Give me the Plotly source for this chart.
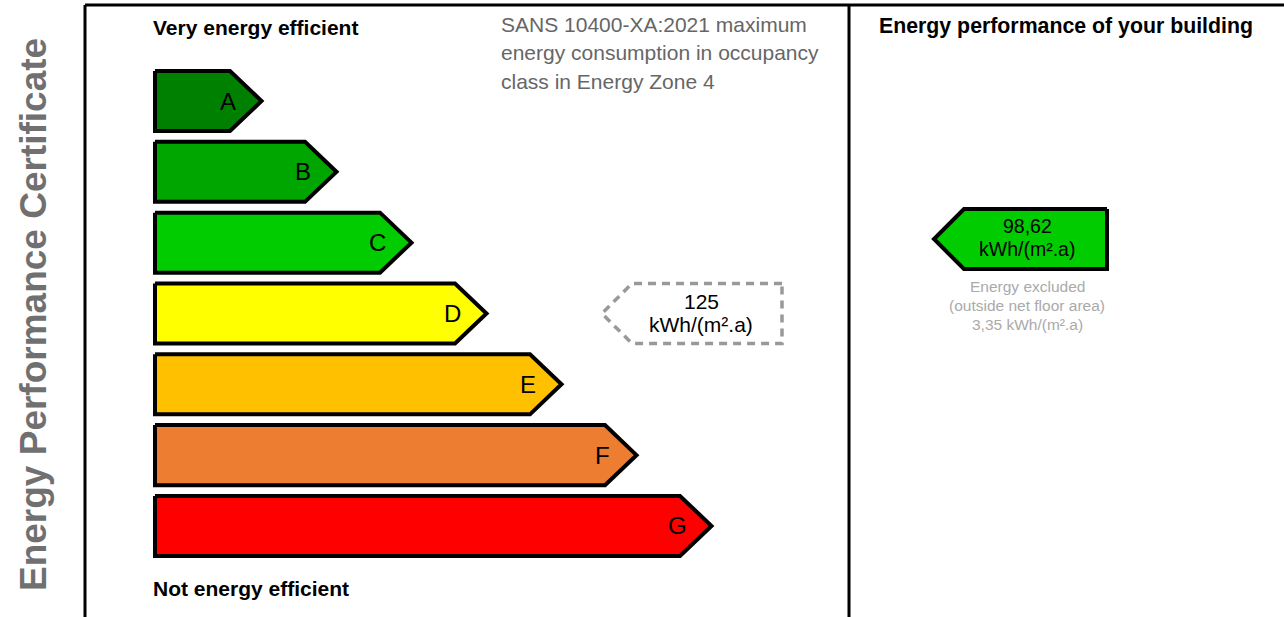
import plotly.graph_objects as go

# ---------------- data ----------------
bands = ["A", "B", "C", "D", "E", "F", "G"]
band_lengths = [1, 2, 3, 4, 5, 6, 7]          # relative arrow length per rating band
band_colors = ["#008000", "#00a600", "#00cc00", "#ffff00", "#ffc000", "#ed7d31", "#ff0000"]

standard_band = "D"                            # band where the SANS maximum sits
standard_max = "125"
unit_label = "kWh/(m².a)"
building_band_color = "#00cc00"
building_value = "98,62"
excluded_value = "3,35"

title_left_top = "Very energy efficient"
title_left_bottom = "Not energy efficient"
standard_lines = ["SANS 10400-XA:2021 maximum",
                  "energy consumption in occupancy",
                  "class in Energy Zone 4"]
title_right = "Energy performance of your building"
side_title = "Energy Performance Certificate"
excluded_lines = ["Energy excluded", "(outside net floor area)",
                  f"{excluded_value} {unit_label}"]

# ---------------- layout constants ----------------
W, H = 1284, 617
X0_PX, UNIT_PX = 155, 75          # x: 0 band-length units at 155 px, 1 unit = 75 px
ROW0_PX, ROW_PX = 101, 70.83      # y: row index 0 at 101 px
x_range = [-X0_PX / UNIT_PX, (W - X0_PX) / UNIT_PX]
y_range = [(H - ROW0_PX) / ROW_PX, -ROW0_PX / ROW_PX]
HALF = 0.424                       # half bar height (rows)
TIP = 0.42                         # arrow tip depth (units)

FONT = "Liberation Sans, Arial, sans-serif"


def ux(px):
    return (px - X0_PX) / UNIT_PX


def uy(px):
    return (px - ROW0_PX) / ROW_PX


fig = go.Figure()

# rating band arrows
for i, (b, L, c) in enumerate(zip(bands, band_lengths, band_colors)):
    fig.add_trace(go.Scatter(
        x=[0, L, L + TIP, L, 0, 0],
        y=[i - HALF, i - HALF, i, i + HALF, i + HALF, i - HALF],
        mode="lines", fill="toself", fillcolor=c,
        line=dict(color="black", width=4),
        hoverinfo="skip", showlegend=False))
    fig.add_annotation(x=L - 0.03, y=i, text=b, showarrow=False,
                       xanchor="center", yanchor="middle",
                       font=dict(family=FONT, size=24, color="black"))

# dashed maximum arrow (standard)
ri = bands.index(standard_band)
d_tip, d_corner, d_right = ux(602), ux(632), ux(782)
fig.add_trace(go.Scatter(
    x=[d_right, d_corner, d_tip, d_corner, d_right, d_right],
    y=[ri - HALF, ri - HALF, ri, ri + HALF, ri + HALF, ri - HALF],
    mode="lines", line=dict(color="#999999", width=3.5, dash="8px,6px"),
    hoverinfo="skip", showlegend=False))
fig.add_annotation(x=ux(701), y=uy(301), text=standard_max, showarrow=False,
                   font=dict(family=FONT, size=21, color="black"))
fig.add_annotation(x=ux(701), y=uy(324), text=unit_label, showarrow=False,
                   font=dict(family=FONT, size=21, color="black"))

# building arrow
by = uy(239)
b_tip, b_corner, b_right = ux(934), ux(964), ux(1107)
fig.add_trace(go.Scatter(
    x=[b_right, b_corner, b_tip, b_corner, b_right, b_right],
    y=[by - HALF, by - HALF, by, by + HALF, by + HALF, by - HALF],
    mode="lines", fill="toself", fillcolor=building_band_color,
    line=dict(color="black", width=4),
    hoverinfo="skip", showlegend=False))
fig.add_annotation(x=ux(1027), y=uy(226), text=building_value, showarrow=False,
                   font=dict(family=FONT, size=19.5, color="black"))
fig.add_annotation(x=ux(1027), y=uy(249), text=unit_label, showarrow=False,
                   font=dict(family=FONT, size=19.5, color="black"))
for k, t in enumerate(excluded_lines):
    fig.add_annotation(x=ux(1027), y=uy(286 + 19 * k), text=t, showarrow=False,
                       font=dict(family=FONT, size=15.5, color="#aaaaaa"))

# headings
fig.add_annotation(x=ux(151), y=uy(27), text=f"<b>{title_left_top}</b>", showarrow=False,
                   xanchor="left", font=dict(family=FONT, size=21, color="black"))
fig.add_annotation(x=ux(151), y=uy(588), text=f"<b>{title_left_bottom}</b>", showarrow=False,
                   xanchor="left", font=dict(family=FONT, size=21, color="black"))
for k, t in enumerate(standard_lines):
    fig.add_annotation(x=ux(499), y=uy(24 + 28.5 * k), text=t, showarrow=False,
                       xanchor="left", font=dict(family=FONT, size=21, color="#666666"))
fig.add_annotation(x=ux(1066), y=uy(26), text=f"<b>{title_right}</b>", showarrow=False,
                   xanchor="center", font=dict(family=FONT, size=21.3, color="black"))
fig.add_annotation(xref="paper", yref="paper", x=33 / W, y=1 - 315 / H,
                   text=f"<b>{side_title}</b>", textangle=-90, showarrow=False,
                   xanchor="center", yanchor="middle",
                   font=dict(family=FONT, size=37, color="#707070"))

# frame lines
top = 1 - 5 / H
fig.add_shape(type="line", xref="paper", yref="paper", x0=85 / W, x1=1, y0=top, y1=top,
              line=dict(color="black", width=3))
for xp in (85, 849):
    fig.add_shape(type="line", xref="paper", yref="paper", x0=xp / W, x1=xp / W, y0=0, y1=top,
                  line=dict(color="black", width=3))

fig.update_layout(
    width=W, height=H, margin=dict(l=0, r=0, t=0, b=0),
    paper_bgcolor="white", plot_bgcolor="white", showlegend=False,
    xaxis=dict(range=x_range, visible=False, fixedrange=True),
    yaxis=dict(range=y_range, visible=False, fixedrange=True),
)

fig.write_html("out.html", config={"displayModeBar": False},
               post_script="document.body.style.margin='0px';document.body.style.overflow='hidden';")
